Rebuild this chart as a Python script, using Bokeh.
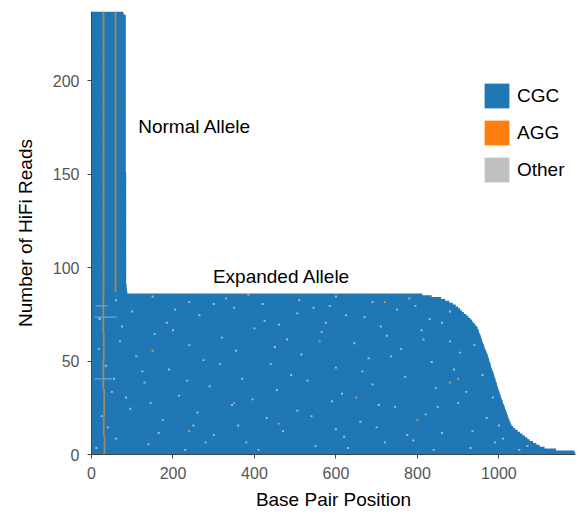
from bokeh.plotting import figure
from bokeh.models import Range1d, FixedTicker, Legend, LegendItem
from bokeh.core.properties import value
from bokeh.embed import file_html
from bokeh.resources import INLINE

# ---- data ----
# read lengths (bp), reads sorted bottom (row 0) to top
expanded_len = [1188, 1185, 1140, 1112, 1100, 1092, 1084, 1076, 1070, 1064,
                1058, 1052, 1046, 1040, 1035, 1031, 1029, 1027, 1025, 1023,
                1022, 1020, 1019, 1017, 1015, 1014, 1012, 1010, 1009, 1007,
                1005, 1004, 1002, 1001, 999, 998, 996, 995, 994, 992,
                991, 989, 988, 987, 985, 983, 981, 980, 979, 977,
                976, 975, 973, 972, 970, 968, 966, 964, 963, 961,
                959, 958, 956, 955, 953, 951, 950, 948, 945, 941,
                937, 934, 930, 925, 920, 914, 909, 905, 900, 894,
                887, 878, 868, 858, 835, 812]
normal_len = [88, 87, 87, 86, 86] + [85] * 60 + [84] * 84 + [79, 78]

# interruption columns (bp position, first row, last row)
interrupt_bp = [32, 30, 31, 29, 30, 29, 29.5, 59]
interrupt_r0 = [0, 10, 20, 35, 50, 65, 86, 87]
interrupt_r1 = [10, 20, 35, 50, 65, 86, 237, 237]

# short "Other" streaks along single reads
streak_bp0 = [8, 8, 10]
streak_bp1 = [50, 62, 40]
streak_row = [40.5, 73.5, 79.5]

# scattered "Other" bases (bp, read)
other_bp = [12, 60, 140, 230, 300, 380, 470, 550, 620, 700, 790, 860, 930, 990, 1050,
            25, 95, 175, 260, 345, 430, 505, 590, 660, 745, 820, 900, 970,
            50, 130, 215, 290, 370, 455, 530, 615, 690, 770, 845, 920, 960,
            35, 110, 190, 275, 355, 440, 515, 600, 680, 760, 835, 905,
            70, 155, 240, 320, 400, 480, 565, 645, 725, 810, 880, 940,
            20, 100, 185, 265, 350, 425, 505, 585, 670, 750, 830, 880,
            60, 150, 240, 330, 420, 510, 600, 690, 780,
            40, 85, 125, 165, 200, 235, 280, 315, 360, 395, 450, 490, 540,
            575, 630, 665, 705, 735, 775, 815, 850, 890, 935, 985, 1010, 1070,
            18, 75, 205, 300, 385, 460, 545, 625, 710, 795, 860, 55, 145, 250,
            410, 600, 720, 840, 1000]
other_row = [3, 8, 5, 2, 10, 6, 12, 4, 9, 14, 7, 11, 3, 6, 2,
             20, 24, 18, 22, 26, 19, 23, 28, 17, 25, 21, 27, 19,
             33, 38, 31, 36, 40, 34, 39, 32, 37, 41, 35, 33, 42,
             47, 52, 45, 50, 55, 48, 53, 46, 51, 56, 49, 54,
             60, 64, 58, 62, 67, 61, 65, 59, 63, 66, 60, 58,
             72, 76, 70, 74, 78, 71, 75, 79, 73, 77, 72, 76,
             82, 84, 81, 83, 80, 82, 84, 81, 83,
             14, 30, 44, 11, 66, 39, 6, 48, 15, 29, 57, 42, 20,
             70, 3, 44, 26, 52, 10, 61, 25, 45, 12, 30, 8, 4,
             56, 68, 77, 80, 85, 69, 78, 74, 68, 79, 70, 40, 27, 15,
             2, 13, 6, 2, 15]

# scattered AGG bases (bp, read)
agg_bp = [350, 560, 880, 900, 720, 460, 150, 240, 800, 650]
agg_row = [27, 60, 38, 40, 81, 16, 55, 12, 18, 30]

ann_x = [114.6, 298]
ann_y = [175.4, 95.3]
ann_text = ["Normal Allele", "Expanded Allele"]

legend_labels = ["CGC", "AGG", "Other"]
legend_colors = ["#1f77b4", "#ff7f0e", "#c0c0c0"]

x_ticks = [0, 200, 400, 600, 800, 1000]
y_ticks = [0, 50, 100, 150, 200]

# ---- figure ----
FONT = "Liberation Sans"
BLUE = "#1f77b4"

p = figure(width=579, height=515, output_backend="svg", toolbar_location=None,
           x_range=Range1d(0, 1188), y_range=Range1d(0, 237),
           min_border_left=91, min_border_right=4, min_border_top=11,
           min_border_bottom=61)
p.outline_line_color = None
p.grid.visible = False
p.background_fill_color = "white"
p.border_fill_color = "white"

lengths = expanded_len + normal_len
rows = list(range(len(lengths)))
p.hbar(y=[r + 0.5 for r in rows], height=1.4, left=0, right=lengths,
       fill_color=BLUE, line_color=None)

p.segment(x0=interrupt_bp, x1=interrupt_bp, y0=interrupt_r0, y1=interrupt_r1,
          line_color="#a48660", line_width=1.8)
p.segment(x0=streak_bp0, x1=streak_bp1, y0=streak_row, y1=streak_row,
          line_color="#6aa3cf", line_width=1.2)
p.rect(x=other_bp, y=[r + 0.5 for r in other_row], width=5, height=1,
       fill_color="#9dbfdc", line_color=None)
p.rect(x=agg_bp, y=[r + 0.5 for r in agg_row], width=5, height=1,
       fill_color="#c99660", line_color=None)

p.text(x=ann_x, y=ann_y, text=ann_text, text_font=value(FONT),
       text_font_size="19px", text_baseline="middle", text_align="left",
       text_color="black")

# legend swatches: renderers placed outside the visible range
items = []
for lab, col in zip(legend_labels, legend_colors):
    r = p.quad(left=[-60], right=[-50], top=[-50], bottom=[-60],
               fill_color=col, line_color=None)
    items.append(LegendItem(label=lab, renderers=[r]))
legend = Legend(items=items, location=(390, 269), glyph_width=31, glyph_height=31,
                label_height=31, spacing=6, padding=0, margin=0, label_standoff=5,
                label_text_font_size="19px", label_text_font=FONT,
                label_text_color="black",
                border_line_alpha=0, background_fill_alpha=0)
p.add_layout(legend)

# axes
p.xaxis.ticker = FixedTicker(ticks=x_ticks)
p.yaxis.ticker = FixedTicker(ticks=y_ticks)
for ax in (p.xaxis[0], p.yaxis[0]):
    ax.axis_line_color = "#444444"
    ax.major_tick_line_color = "#444444"
    ax.major_tick_out = 4
    ax.major_tick_in = 0
    ax.minor_tick_line_color = None
    ax.major_label_text_font = FONT
    ax.major_label_text_font_size = "16px"
    ax.major_label_text_color = "#555555"
    ax.major_label_standoff = 8
    ax.axis_label_text_font = FONT
    ax.axis_label_text_font_size = "19px"
    ax.axis_label_text_font_style = "normal"
    ax.axis_label_text_color = "black"
p.xaxis.axis_label = "Base Pair Position"
p.yaxis.axis_label = "Number of HiFi Reads"
p.xaxis.axis_label_standoff = 7
p.yaxis.axis_label_standoff = 14

open("out.html", "w").write(file_html(p, INLINE))
